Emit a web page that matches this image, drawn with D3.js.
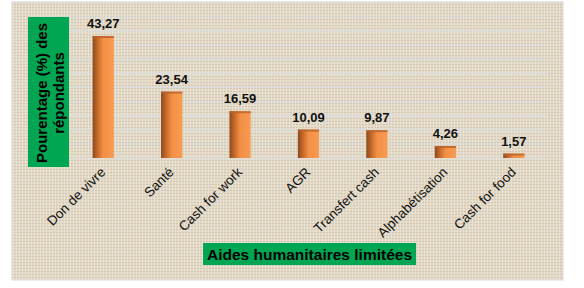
<!DOCTYPE html>
<html>
<head>
<meta charset="utf-8">
<script src="https://cdn.jsdelivr.net/npm/d3@7"></script>
<style>
  body { margin: 0; background: #fff; }
  svg { display: block; font-family: "Liberation Sans", Arial, sans-serif; }
</style>
</head>
<body>
<svg id="chart" width="584" height="288"></svg>
<script>
const categories = ['Don de vivre', 'Santé', 'Cash for work', 'AGR', 'Transfert cash', 'Alphabétisation', 'Cash for food']
const values = [43.27, 23.54, 16.59, 10.09, 9.87, 4.26, 1.57]
const yTicks = [0, 5, 10, 15, 20, 25, 30, 35, 40, 45, 50]

const fmt = v => v.toFixed(2).replace('.', ',')

const svg = d3.select('#chart')
const defs = svg.append('defs')

// beige canvas texture
const pat = defs.append('pattern')
  .attr('id', 'canvas')
  .attr('width', 6).attr('height', 6)
  .attr('patternUnits', 'userSpaceOnUse')
pat.append('rect').attr('width', 6).attr('height', 6).attr('fill', '#e2d9c6')
pat.append('path').attr('d', 'M0,1.5H6M0,4.5H6').attr('stroke', '#cfc3ac').attr('stroke-width', 0.8)
pat.append('path').attr('d', 'M1.5,0V6M4.5,0V6').attr('stroke', '#ebe5d8').attr('stroke-width', 0.8)

const grad = defs.append('linearGradient').attr('id', 'bar').attr('x1', 0).attr('x2', 1)
grad.append('stop').attr('offset', '0%').attr('stop-color', '#8c4a1c')
grad.append('stop').attr('offset', '25%').attr('stop-color', '#c86a2a')
grad.append('stop').attr('offset', '50%').attr('stop-color', '#f28f45')
grad.append('stop').attr('offset', '100%').attr('stop-color', '#f89c52')

svg.append('rect')
  .attr('x', 12).attr('y', 2).attr('width', 551).attr('height', 278)
  .attr('fill', 'url(#canvas)')
  .attr('stroke', '#d8d8d8')

const x = d3.scaleBand()
  .domain(categories)
  .range([69, 548])
  .paddingInner(0.69)
  .paddingOuter(0.345)

const y = d3.scaleLinear()
  .domain([0, 50])
  .range([158, 17])

// gridlines
svg.append('g')
  .selectAll('line')
  .data(yTicks)
  .join('line')
  .attr('x1', 30).attr('x2', 548)
  .attr('y1', d => y(d)).attr('y2', d => y(d))
  .attr('stroke', '#dadee2')
  .attr('stroke-width', 1.2)

// bars
const bars = svg.append('g')
  .selectAll('g')
  .data(values)
  .join('g')

bars.append('rect')
  .attr('x', (d, i) => x(categories[i]))
  .attr('y', d => y(d))
  .attr('width', x.bandwidth())
  .attr('height', d => y(0) - y(d))
  .attr('fill', 'url(#bar)')

bars.append('rect')
  .attr('x', (d, i) => x(categories[i]))
  .attr('y', d => y(d))
  .attr('width', x.bandwidth())
  .attr('height', 2)
  .attr('fill', '#b8612a')
  .attr('opacity', 0.8)

bars.append('text')
  .attr('x', (d, i) => x(categories[i]) + x.bandwidth() / 2)
  .attr('y', d => y(d) - 8)
  .attr('text-anchor', 'middle')
  .attr('font-size', 13)
  .attr('font-weight', 'bold')
  .attr('fill', '#111')
  .text(fmt)

// x tick labels
svg.append('g')
  .selectAll('text')
  .data(categories)
  .join('text')
  .attr('transform', d => `translate(${x(d) + x.bandwidth() / 2 + 3},${y(0) + 15}) rotate(-45)`)
  .attr('text-anchor', 'end')
  .attr('font-size', 13.5)
  .attr('fill', '#111')
  .text(d => d)

// y title box
svg.append('rect')
  .attr('x', 28).attr('y', 17).attr('width', 41).attr('height', 150)
  .attr('fill', '#00a651')
const yt = svg.append('text')
  .attr('transform', 'translate(48,93) rotate(-90)')
  .attr('text-anchor', 'middle')
  .attr('font-size', 15)
  .attr('font-weight', 'bold')
  .attr('fill', '#000')
yt.append('tspan').attr('x', 0).attr('dy', -1).text('Pourentage (%) des')
yt.append('tspan').attr('x', 0).attr('dy', 17).text('répondants')

// x title box
svg.append('rect')
  .attr('x', 203).attr('y', 243).attr('width', 213).attr('height', 22)
  .attr('fill', '#00a651')
svg.append('text')
  .attr('x', 309.5).attr('y', 259.5)
  .attr('text-anchor', 'middle')
  .attr('font-size', 15.5)
  .attr('font-weight', 'bold')
  .attr('fill', '#000')
  .text('Aides humanitaires limitées')
</script>
</body>
</html>
